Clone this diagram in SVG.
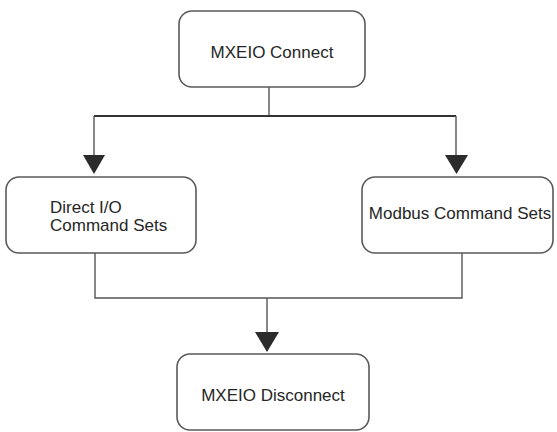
<svg xmlns="http://www.w3.org/2000/svg" width="557" height="432" viewBox="0 0 557 432">
<defs>
<style>
.box{fill:#fff;stroke:#5a5a5a;stroke-width:1.6}
.t{font-family:"Liberation Sans",Arial,sans-serif;font-size:17px;fill:#262626}
.ln{fill:none;stroke:#555;stroke-width:1.4}
.lnb{fill:none;stroke:#333;stroke-width:2.2}
.ah{fill:#2b2b2b}
</style>
</defs>
<rect width="557" height="432" fill="#fff"/>
<g id="connectors">
<path class="ln" d="M269,87 V116"/>
<path class="lnb" d="M94,116 H456"/>
<path class="ln" d="M94,116 V158"/>
<path class="ln" d="M456,116 V158"/>
<polygon class="ah" points="83,155 105,155 94,174"/>
<polygon class="ah" points="445,155 468,155 456.5,174"/>
<path class="ln" d="M95,253 V298 H462 V253"/>
<path class="ln" d="M267,298 V335"/>
<polygon class="ah" points="255,332 279,332 267,352"/>
</g>
<g id="n1">
<rect class="box" x="179" y="11" width="186" height="76" rx="13"/>
<text class="t" x="272" y="58" text-anchor="middle">MXEIO Connect</text>
</g>
<g id="n2">
<rect class="box" x="6" y="177" width="190" height="76" rx="13"/>
<text class="t" x="50" y="213">Direct I/O</text>
<text class="t" x="50" y="231">Command Sets</text>
</g>
<g id="n3">
<rect class="box" x="362" y="177" width="191" height="76" rx="13"/>
<text class="t" x="460" y="219" text-anchor="middle">Modbus Command Sets</text>
</g>
<g id="n4">
<rect class="box" x="177" y="354" width="192" height="76" rx="13"/>
<text class="t" x="273" y="401" text-anchor="middle">MXEIO Disconnect</text>
</g>
</svg>
